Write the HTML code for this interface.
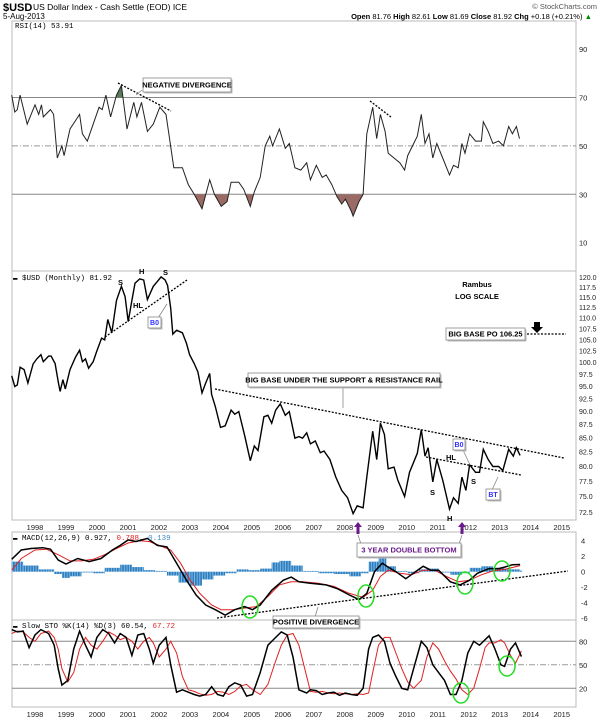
<!DOCTYPE html>
<html><head><meta charset="utf-8"><style>
html,body{margin:0;padding:0;background:#fff;}
svg{display:block;font-family:"Liberation Sans",sans-serif;}
</style></head><body>
<svg id="chart" width="606" height="720" viewBox="0 0 606 720" xmlns="http://www.w3.org/2000/svg">
<defs>
<clipPath id="below30"><rect x="12" y="194.4" width="564" height="77"/></clipPath>
<clipPath id="above70"><rect x="12" y="21" width="564" height="76.5"/></clipPath>
<pattern id="histStripes" width="2.6" height="10" patternUnits="userSpaceOnUse">
<rect x="0" y="0" width="2.6" height="10" fill="#8cc0e8"/>
<rect x="0" y="0" width="1.8" height="10" fill="#2f7fc0"/>
</pattern>
</defs>
<g>
<text x="3" y="11" font-size="11" font-weight="bold">$USD</text>
<text x="33" y="10" font-size="8.5">US Dollar Index - Cash Settle (EOD) ICE</text>
<text x="3" y="19" font-size="8">5-Aug-2013</text>
<text x="597" y="9" font-size="7.5" text-anchor="end" fill="#555">© StockCharts.com</text>
<text x="592" y="19" font-size="7.5" text-anchor="end"><tspan font-weight="bold">Open</tspan> 81.76 <tspan font-weight="bold">High</tspan> 82.61 <tspan font-weight="bold">Low</tspan> 81.69 <tspan font-weight="bold">Close</tspan> 81.92 <tspan font-weight="bold">Chg</tspan> +0.18 (+0.21%) <tspan fill="#080">▲</tspan></text>
</g>
<g id="frames"></g>
<g id="grid"></g>
<g id="marks"></g>
<g id="annot"></g>
</svg>
<script>
// ---------- DATA ----------
const yearTicks=[1998,1999,2000,2001,2002,2003,2004,2005,2006,2007,2008,2009,2010,2011,2012,2013,2014,2015];
const rsiTicks=[90,70,50,30,10];
const priceTicks=[72.5,75,77.5,80,82.5,85,87.5,90,92.5,95,97.5,100,102.5,105,107.5,110,112.5,115,117.5,120];
const macdTicks=[4,2,0,-2,-4,-6];
const stoTicks=[80,50,20];

const rsiDates=[1997.33,1997.43,1997.51,1997.60,1997.83,1998.08,1998.20,1998.29,1998.35,1998.58,1998.68,1998.80,1998.95,1999.02,1999.21,1999.52,1999.61,1999.77,1999.96,2000.15,2000.25,2000.37,2000.52,2000.71,2000.87,2001.05,2001.27,2001.37,2001.52,2001.71,2001.90,2002.11,2002.31,2002.56,2002.84,2003.03,2003.22,2003.47,2003.72,2003.87,2004.09,2004.28,2004.41,2004.66,2004.82,2005.03,2005.16,2005.35,2005.51,2005.66,2005.75,2005.97,2006.16,2006.29,2006.47,2006.66,2006.85,2006.97,2007.16,2007.35,2007.48,2007.66,2007.83,2007.98,2008.10,2008.29,2008.35,2008.54,2008.67,2008.79,2008.98,2009.11,2009.23,2009.38,2009.48,2009.67,2009.86,2010.01,2010.11,2010.42,2010.55,2010.67,2010.80,2010.92,2011.05,2011.24,2011.46,2011.59,2011.74,2011.86,2011.96,2012.11,2012.30,2012.49,2012.55,2012.71,2012.86,2013.05,2013.20,2013.37,2013.49,2013.62,2013.72];
const rsiValues=[71,64,65,71,59,67,63,67,62,65,63,45,50,46,57,63,55,52,59,66,65,71,62,71,75,57,68,62,68,56,59,66,63,41,41,34,30,24,36,30,25,27,35,35,32,25,31,37,50,54,50,57,49,51,41,40,43,36,42,37,38,34,29,26,28,23,21,27,30,55,66,53,63,56,47,45,43,40,46,54,63,51,55,45,51,45,38,42,41,51,47,55,52,52,60,56,51,52,50,58,55,58,53];

const priceDates=[1997.33,1997.43,1997.51,1997.60,1997.73,1997.85,1998.02,1998.14,1998.27,1998.35,1998.52,1998.60,1998.73,1998.83,1998.89,1998.98,1999.06,1999.21,1999.39,1999.52,1999.61,1999.71,1999.81,1999.96,2000.06,2000.23,2000.33,2000.43,2000.56,2000.71,2000.87,2000.99,2001.09,2001.21,2001.31,2001.46,2001.59,2001.71,2001.90,2002.03,2002.15,2002.28,2002.36,2002.46,2002.53,2002.65,2002.84,2002.97,2003.07,2003.22,2003.34,2003.47,2003.59,2003.72,2003.78,2003.90,2004.07,2004.22,2004.41,2004.53,2004.66,2004.84,2005.03,2005.16,2005.28,2005.47,2005.60,2005.72,2005.85,2006.00,2006.16,2006.29,2006.47,2006.60,2006.72,2006.85,2006.97,2007.13,2007.29,2007.41,2007.60,2007.79,2007.98,2008.17,2008.35,2008.48,2008.67,2008.79,2008.98,2009.11,2009.23,2009.36,2009.48,2009.67,2009.79,2010.01,2010.17,2010.42,2010.55,2010.67,2010.77,2010.92,2011.05,2011.24,2011.46,2011.59,2011.74,2011.86,2011.99,2012.11,2012.30,2012.43,2012.55,2012.71,2012.86,2013.05,2013.18,2013.37,2013.52,2013.62,2013.74];
const priceValues=[97.2,95,95.3,99,98.5,95.7,99.7,100.8,101.7,100.2,101.4,101.4,99.8,96,94,96.4,94.5,98.5,101.2,102.7,100.2,100.8,98.8,100.2,102.2,105.4,105,109.7,106.6,114.3,117.8,115.2,109.2,114.3,118.6,119.7,119.4,114.5,117.8,119,120.2,119.4,118,112.4,106.3,107.2,106.6,104.2,101.7,99.8,98,93.7,95.7,97.7,93.4,91,87,87.3,90.3,89.5,90,85.7,81,83.6,82.8,89,89.3,87.8,90.3,91.5,89.3,90,85,85.3,85,86,84,84.5,82.4,82.7,81.2,78.2,76,74.8,72.3,73.5,73.2,78.2,86.3,81.2,87.8,85.7,79.6,79.9,77.7,75,79,82.3,86.6,81.8,83.3,77.4,81.2,77.7,73,74.8,73.9,78.2,76,80.3,79,79,83,81.2,80,80,79.3,83,81.8,83.3,81.92];

const macdDates=[1997.33,1997.64,1997.95,1998.33,1998.58,1998.83,1999.08,1999.46,1999.83,2000.21,2000.58,2000.83,2001.09,2001.34,2001.71,2002.03,2002.34,2002.65,2002.97,2003.28,2003.59,2003.90,2004.22,2004.53,2004.84,2005.10,2005.35,2005.72,2006.10,2006.35,2006.60,2006.97,2007.48,2007.85,2008.23,2008.54,2008.79,2009.04,2009.29,2009.48,2009.73,2010.05,2010.36,2010.61,2010.86,2011.11,2011.49,2011.80,2012.11,2012.36,2012.74,2013.05,2013.24,2013.49,2013.74];
const macdValues=[1.6,2.8,3.0,3.1,2.9,1.5,1.0,1.7,1.3,1.7,2.8,3.4,4.1,3.9,4.3,3.4,3.2,1.1,-1.1,-3.0,-4.3,-4.9,-5.6,-4.9,-4.5,-4.9,-4.3,-2.4,-1.1,-0.7,-1.3,-1.5,-1.7,-2.2,-3.0,-3.6,-2.8,0,1.1,0.6,0,-0.9,0,0.7,0.2,0.2,-1.3,-1.7,-1.1,-0.2,0.4,0.4,0.6,0.9,0.93];
const signalDates=[1997.33,1997.64,1998.08,1998.45,1998.83,1999.21,1999.58,1999.96,2000.33,2000.71,2001.09,2001.46,2001.77,2002.09,2002.46,2002.78,2003.09,2003.40,2003.78,2004.09,2004.47,2004.84,2005.22,2005.60,2005.97,2006.35,2006.72,2007.23,2007.73,2008.23,2008.67,2008.98,2009.23,2009.48,2009.86,2010.23,2010.61,2010.98,2011.36,2011.74,2012.11,2012.49,2012.86,2013.24,2013.74];
const signalValues=[0.2,1.7,2.8,2.9,2.2,1.4,1.4,1.6,2.2,3.0,3.7,4.0,3.9,3.4,2.8,1.1,-1.1,-2.8,-4.3,-4.9,-4.9,-4.7,-4.5,-3.2,-1.7,-1.3,-1.3,-1.5,-1.9,-2.8,-3.3,-2.4,-0.6,0.2,-0.2,-0.4,0.2,0.2,-0.6,-1.3,-1.1,-0.4,0.1,0.3,0.79];
const histDates=[1997.33,1997.70,1998.20,1998.70,1998.95,1999.21,1999.58,1999.96,2000.33,2000.83,2001.21,2001.59,2001.96,2002.34,2002.71,2003.09,2003.47,2003.84,2004.22,2004.59,2004.97,2005.35,2005.72,2005.97,2006.35,2006.72,2007.23,2007.73,2008.23,2008.60,2008.85,2009.17,2009.42,2009.73,2010.11,2010.48,2010.73,2011.11,2011.49,2011.86,2012.11,2012.49,2012.86,2013.24,2013.74];
const histValues=[1.3,0.8,0.3,-0.3,-0.8,-0.6,-0.1,-0.2,0.5,0.9,0.6,0.2,0.1,-0.5,-1.4,-1.8,-1.0,-0.5,-0.2,0.3,0.2,0.4,1.2,1.4,0.8,0.1,-0.2,-0.3,-0.6,-0.2,1.3,1.8,0.7,0.1,-0.2,0.3,0.4,-0.1,-0.4,-0.2,0.5,0.7,0.5,0.3,0.14];

const stoDates=[1997.33,1997.51,1997.70,1997.89,1998.08,1998.27,1998.52,1998.70,1998.83,1998.95,1999.14,1999.33,1999.52,1999.71,1999.89,2000.08,2000.27,2000.46,2000.65,2000.83,2001.02,2001.21,2001.40,2001.59,2001.77,2001.90,2002.09,2002.31,2002.46,2002.65,2002.84,2003.03,2003.22,2003.40,2003.59,2003.78,2003.97,2004.16,2004.34,2004.53,2004.72,2004.91,2005.10,2005.35,2005.60,2005.85,2006.03,2006.22,2006.41,2006.60,2006.85,2006.97,2007.16,2007.35,2007.54,2007.73,2007.91,2008.10,2008.29,2008.48,2008.67,2008.85,2008.98,2009.17,2009.36,2009.54,2009.73,2009.92,2010.11,2010.30,2010.55,2010.73,2010.92,2011.11,2011.30,2011.49,2011.67,2011.86,2012.05,2012.24,2012.43,2012.61,2012.74,2012.93,2013.12,2013.24,2013.43,2013.59,2013.78];
const stoK=[95,92,93,72,88,95,90,75,45,24,30,70,93,75,60,85,95,90,78,90,85,62,88,90,70,52,75,85,50,15,18,15,12,10,12,22,12,10,22,27,24,10,12,40,75,85,92,88,60,18,14,18,17,12,14,15,11,14,12,11,20,70,85,88,80,52,35,20,18,45,80,72,50,40,30,12,12,30,65,80,75,82,87,70,50,48,70,78,60.5];
const stoD=[90,93,92,85,80,90,93,85,70,45,28,40,70,85,75,70,80,92,88,82,85,80,70,80,85,78,60,70,80,65,35,18,16,13,11,12,16,15,12,16,23,25,18,12,25,55,75,88,90,75,35,16,15,16,14,13,14,13,12,13,12,14,40,75,85,85,65,45,28,20,30,60,78,70,55,42,32,18,12,20,45,72,78,78,82,78,62,52,67.7];

// ---------- SCALES ----------
const L=12,R=576;
function x(d){return 32.5+(d-1998)*30.98;}
function yRsi(v){return 97.5+(70-v)*2.42;}
const pTop=277.7,pBot=512.3;
function yPrice(v){return pTop+(Math.log(120)-Math.log(v))/(Math.log(120)-Math.log(72.5))*(pBot-pTop);}
function yMacd(v){return 571.7-v*7.75;}
function ySto(v){return 641.3+(80-v)*0.783;}

const NS="http://www.w3.org/2000/svg";
function el(tag,attrs,parent,txt){const e=document.createElementNS(NS,tag);for(const k in attrs)e.setAttribute(k,attrs[k]);if(txt!=null)e.textContent=txt;parent.appendChild(e);return e;}
function pathOf(ds,vs,fy){let s="";const n=Math.min(ds.length,vs.length);for(let i=0;i<n;i++){s+=(i?"L":"M")+x(ds[i]).toFixed(1)+","+fy(vs[i]).toFixed(1);}return s;}

const frames=document.getElementById('frames'),grid=document.getElementById('grid'),marks=document.getElementById('marks'),annot=document.getElementById('annot');

const panels=[["rsi-panel",21,271],["price-panel",271,520],["macd-panel",532,620],["stoch-panel",620,707]];
panels.forEach(p=>{
  const r=el('rect',{x:L,y:p[1],width:R-L,height:p[2]-p[1],fill:"#fff",stroke:"#bbb","stroke-width":1},frames);
  
  
});
[527,714].forEach(yy=>{
  yearTicks.forEach(Y=>{
    const t=el('text',{x:x(Y)+2.5,y:yy+3,"font-size":7.5,"text-anchor":"middle",fill:"#222"},grid,String(Y));
    
    
  });
});
rsiTicks.forEach(v=>{
  const t=el('text',{x:579,y:yRsi(v)+3,"font-size":7.5,fill:"#222"},grid,String(v));
  
  
});
[70,30].forEach(v=>el('line',{x1:L,x2:R,y1:yRsi(v),y2:yRsi(v),stroke:"#888","stroke-width":1},grid));
el('line',{x1:L,x2:R,y1:yRsi(50),y2:yRsi(50),stroke:"#999","stroke-width":1,"stroke-dasharray":"6,2,1,2"},grid);
priceTicks.forEach(v=>{
  const t=el('text',{x:579,y:yPrice(v)+2.5,"font-size":7,fill:"#222"},grid,v.toFixed(1));
  
  
});
macdTicks.forEach(v=>{
  const t=el('text',{x:581,y:yMacd(v)+3,"font-size":7.5,fill:"#222"},grid,String(v));
  
  
});
stoTicks.forEach(v=>{
  const t=el('text',{x:579,y:ySto(v)+3,"font-size":7.5,fill:"#222"},grid,String(v));
  
  
});
[80,20].forEach(v=>el('line',{x1:L,x2:R,y1:ySto(v),y2:ySto(v),stroke:"#888","stroke-width":1},grid));
el('line',{x1:L,x2:R,y1:ySto(50),y2:ySto(50),stroke:"#999","stroke-width":1,"stroke-dasharray":"6,2,1,2"},grid);

// RSI
const rsiP=pathOf(rsiDates,rsiValues,yRsi);
const n=rsiDates.length;
const rsiArea30=rsiP+"L"+x(rsiDates[n-1])+","+yRsi(30)+"L"+x(rsiDates[0])+","+yRsi(30)+"Z";
const a1=el('path',{d:rsiArea30,fill:"#9a6a64","clip-path":"url(#below30)"},marks);


const rsiArea70=rsiP+"L"+x(rsiDates[n-1])+","+yRsi(70)+"L"+x(rsiDates[0])+","+yRsi(70)+"Z";
const a2=el('path',{d:rsiArea70,fill:"#5a7a5a","clip-path":"url(#above70)"},marks);


const rl=el('path',{d:rsiP,fill:"none",stroke:"#222","stroke-width":1},marks);



// price
const pl=el('path',{d:pathOf(priceDates,priceValues,yPrice),fill:"none",stroke:"#000","stroke-width":1.4},marks);



// histogram
for(let i=0;i<histDates.length;i++){
  const x0=x(histDates[i]),x1=i<histDates.length-1?x(histDates[i+1]):x0+2;
  const v=histValues[i];const y0=yMacd(0),yv=yMacd(v);
  const b=el('rect',{x:x0,y:Math.min(y0,yv),width:Math.max(1,x1-x0),height:Math.abs(yv-y0),fill:"url(#histStripes)"},marks);
  
  
}
const sl=el('path',{d:pathOf(signalDates,signalValues,yMacd),fill:"none",stroke:"#e02020","stroke-width":1},marks);


const ml=el('path',{d:pathOf(macdDates,macdValues,yMacd),fill:"none",stroke:"#000","stroke-width":1.5},marks);



// stoch
const dl=el('path',{d:pathOf(stoDates,stoD,ySto),fill:"none",stroke:"#e02020","stroke-width":1},marks);


const kl=el('path',{d:pathOf(stoDates,stoK,ySto),fill:"none",stroke:"#000","stroke-width":1.5},marks);


</script>
<script>
(function(){
const NS="http://www.w3.org/2000/svg";const g=document.getElementById('annot');
function a(tag,attrs,txt){const e=document.createElementNS(NS,tag);for(const k in attrs)e.setAttribute(k,attrs[k]);if(txt!=null)e.textContent=txt;g.appendChild(e);return e;}
function box(x,y,w,h,label,name,color,fs){
  a('rect',{x:x+1.5,y:y+1.5,width:w,height:h,fill:"#bbb"});
  const r=a('rect',{x:x,y:y,width:w,height:h,fill:"#fff",stroke:"#888","stroke-width":0.8});
  
  
  const t=a('text',{x:x+w/2,y:y+h/2+2.7,"font-size":fs||7.5,"font-weight":"bold","text-anchor":"middle",fill:color||"#000"},label);
  
  
}
function dline(x1,y1,x2,y2,name,w){const l=a('line',{x1:x1,y1:y1,x2:x2,y2:y2,stroke:"#000","stroke-width":w||1.3,"stroke-dasharray":"2,1.5"});}
function txt(x,y,s,name,opts){const t=a('text',Object.assign({x:x,y:y,"font-size":7.5,"font-weight":"bold"},opts||{}),s);}

txt(15,28,"RSI(14) 53.91","rsi-legend",{"font-weight":"normal","font-size":7.5,"font-family":"Liberation Mono, monospace"});
txt(13,280,"▬ $USD (Monthly) 81.92","price-legend",{"font-weight":"normal","font-size":7.5,"font-family":"Liberation Mono, monospace"});
const mt=a('text',{x:13,y:540,"font-size":7.5,"font-family":"Liberation Mono, monospace"});

mt.innerHTML='<tspan>▬ MACD(12,26,9) 0.927, </tspan><tspan fill="#e02020">0.788</tspan><tspan>, </tspan><tspan fill="#3f8ccc">0.139</tspan>';
const st=a('text',{x:13,y:628,"font-size":7.5,"font-family":"Liberation Mono, monospace"});

st.innerHTML='<tspan>▬ Slow STO %K(14) %D(3) 60.54, </tspan><tspan fill="#e02020">67.72</tspan>';

dline(118,83,171,111,"rsi-divergence-line-1");
dline(370,101,391,117,"rsi-divergence-line-2");
a('line',{x1:142,y1:90,x2:136,y2:95,stroke:"#888","stroke-width":0.8});
box(143,78,88,14,"NEGATIVE DIVERGENCE","negative-divergence-label");

dline(105,337,187,280,"neckline-top");
txt(118,285,"S","shoulder-left-label");txt(139,274,"H","head-top-label");txt(163,275,"S","shoulder-right-label");
txt(133,308,"HL","hl-label-top");
a('line',{x1:158,y1:318,x2:167,y2:304,stroke:"#888","stroke-width":0.8});
box(148,317,13,11,"B0","bo-label-top","#3030ff",7);
txt(477,287,"Rambus","rambus-label",{"text-anchor":"middle"});
txt(477,299,"LOG SCALE","log-scale-label",{"text-anchor":"middle"});
box(446,328,79,12,"BIG BASE PO 106.25","big-base-po-label");
dline(527,334,566,334,"price-objective-line");
a('path',{d:"M534,322h6v5h3l-6,6l-6,-6h3z",fill:"#000"});
dline(215,389,564,458,"resistance-rail");
dline(426,457,521,475,"inner-neckline");
a('line',{x1:343,y1:387,x2:343,y2:408,stroke:"#888","stroke-width":0.8});
box(248,373,192,14,"BIG BASE UNDER THE SUPPORT & RESISTANCE RAIL","big-base-rail-label");
txt(446,460,"HL","hl-label-bottom");
a('line',{x1:463,y1:450,x2:470,y2:465,stroke:"#888","stroke-width":0.8});
box(453,439,12,11,"B0","bo-label-bottom","#3030ff",7);
txt(430,495,"S","shoulder-left-bottom");txt(471,484,"S","shoulder-right-bottom");
txt(447,521,"H","head-bottom-label");
a('line',{x1:492,y1:490,x2:498,y2:477,stroke:"#888","stroke-width":0.8});
box(486,489,14,11,"BT","bt-label","#3030ff",7);

[[358,"arrow-2008-bottom"],[462,"arrow-2011-bottom"]].forEach(p=>{
  const e=a('path',{d:`M${p[0]},522l-4,5h2.5v7h3v-7h2.5z`,fill:"#6a1a8a"});
  
});
a('polyline',{points:"358,535 362,547",fill:"none",stroke:"#888","stroke-width":0.8});
a('polyline',{points:"462,535 458,547",fill:"none",stroke:"#888","stroke-width":0.8});
box(357,543,104,14,"3 YEAR DOUBLE BOTTOM","double-bottom-label","#6a1a8a");

dline(217,618,568,571,"macd-divergence-line");
a('line',{x1:318,y1:607,x2:315,y2:617,stroke:"#888","stroke-width":0.8});
box(273,616,86,12,"POSITIVE DIVERGENCE","positive-divergence-label");

[[250,607,8,11,"circle-macd-2005"],[366,596,8,11,"circle-macd-2008"],[465,583,8,11,"circle-macd-2011"],[502,571,8,10,"circle-macd-2013"],[461,693,8,10,"circle-stoch-2011"],[507,666,8,10,"circle-stoch-2013"]].forEach(c=>{
  const e=a('ellipse',{cx:c[0],cy:c[1],rx:c[2],ry:c[3],fill:"none",stroke:"#22dd22","stroke-width":1.5});
  
});
})();
</script>
</body></html>
